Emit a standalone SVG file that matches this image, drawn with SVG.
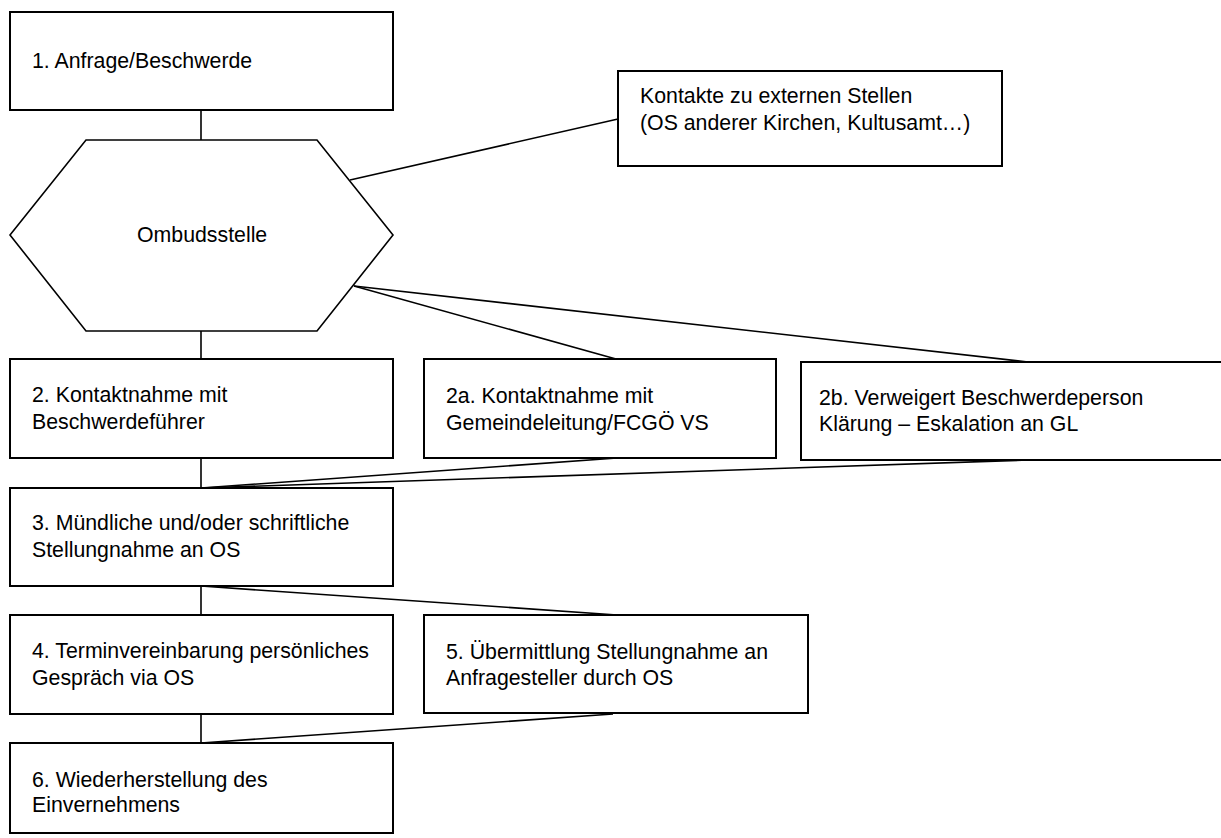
<svg xmlns="http://www.w3.org/2000/svg" width="1221" height="838" viewBox="0 0 1221 838">
<style>
.box{fill:#fff;stroke:#000;stroke-width:2}
.hex{fill:#fff;stroke:#000;stroke-width:1.6}
.t{font-family:"Liberation Sans",Arial,sans-serif;font-size:21.3px;fill:#000}
.c line{stroke:#000;stroke-width:1.6}
</style>
<rect width="1221" height="838" fill="#fff"/>
<g class="c" id="connectors">
<line x1="201" y1="110" x2="201" y2="140"/>
<line x1="350" y1="180" x2="618" y2="119"/>
<line x1="354" y1="286" x2="616" y2="359"/>
<line x1="354" y1="286" x2="1028" y2="362"/>
<line x1="201" y1="331" x2="201" y2="359"/>
<line x1="201" y1="458" x2="201" y2="488"/>
<line x1="201" y1="488" x2="617" y2="458"/>
<line x1="201" y1="488" x2="1028" y2="460"/>
<line x1="201" y1="586" x2="201" y2="615"/>
<line x1="201" y1="586" x2="617" y2="615"/>
<line x1="201" y1="714" x2="201" y2="743"/>
<line x1="201" y1="743" x2="613" y2="714"/>
</g>
<g id="n1"><rect class="box" x="10" y="12" width="383" height="98"/><text class="t" x="32" y="68">1. Anfrage/Beschwerde</text></g>
<g id="ext"><rect class="box" x="618" y="71" width="384" height="95"/><text class="t" x="640" y="103">Kontakte zu externen Stellen</text><text class="t" x="640" y="130">(OS anderer Kirchen, Kultusamt…)</text></g>
<g id="os"><polygon class="hex" points="86,140 317,140 393,235 317,331 86,331 10,235"/><text class="t" x="137" y="242">Ombudsstelle</text></g>
<g id="n2"><rect class="box" x="10" y="359" width="383" height="99"/><text class="t" x="32" y="402">2. Kontaktnahme mit</text><text class="t" x="32" y="429">Beschwerdeführer</text></g>
<g id="n2a"><rect class="box" x="424" y="359" width="352" height="99"/><text class="t" x="446" y="403">2a. Kontaktnahme mit</text><text class="t" x="446" y="430">Gemeindeleitung/FCGÖ VS</text></g>
<g id="n2b"><rect class="box" x="801" y="362" width="424" height="98"/><text class="t" x="819" y="405">2b. Verweigert Beschwerdeperson</text><text class="t" x="819" y="431">Klärung – Eskalation an GL</text></g>
<g id="n3"><rect class="box" x="10" y="488" width="383" height="98"/><text class="t" x="32" y="530">3. Mündliche und/oder schriftliche</text><text class="t" x="32" y="557">Stellungnahme an OS</text></g>
<g id="n4"><rect class="box" x="10" y="615" width="383" height="99"/><text class="t" x="32" y="658">4. Terminvereinbarung persönliches</text><text class="t" x="32" y="685">Gespräch via OS</text></g>
<g id="n5"><rect class="box" x="424" y="615" width="384" height="98"/><text class="t" x="446" y="659">5. Übermittlung Stellungnahme an</text><text class="t" x="446" y="685">Anfragesteller durch OS</text></g>
<g id="n6"><rect class="box" x="10" y="743" width="383" height="90"/><text class="t" x="32" y="787">6. Wiederherstellung des</text><text class="t" x="32" y="812">Einvernehmens</text></g>
</svg>
